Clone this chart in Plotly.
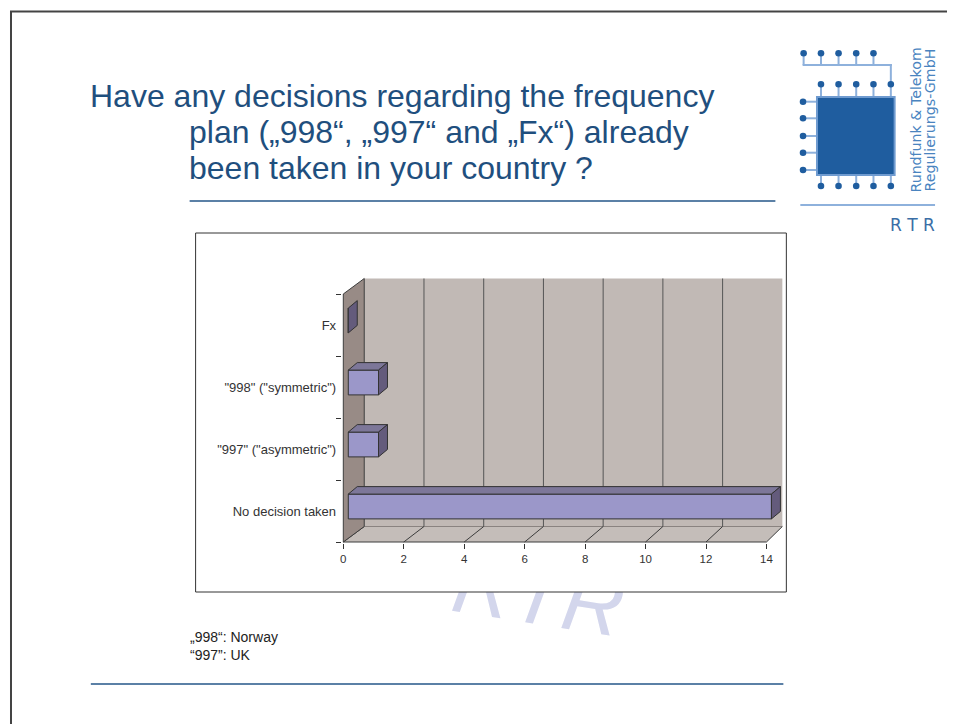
import plotly.graph_objects as go

# ---------------- data ----------------
categories = ['No decision taken', '"997" ("asymmetric")', '"998" ("symmetric")', 'Fx']
values = [14, 1, 1, 0]
x_tick_values = [0, 2, 4, 6, 8, 10, 12, 14]

title_lines = ['Have any decisions regarding the frequency',
               'plan („998“, „997“ and „Fx“) already',
               'been taken in your country ?']
note_lines = ['„998“: Norway', '“997”: UK']
logo_lines = ['Rundfunk & Telekom', 'Regulierungs-GmbH']
logo_mark = 'R T R'
watermark = 'RTR'

# ---------------- layout / style constants ----------------
OFF = 8                      # page offset of the figure inside the browser window
W, H = 955 - OFF, 724 - OFF
FONT = 'Liberation Sans, Arial, sans-serif'
X0_PX, PX_PER_X = 342, 30.29      # window pixel of value 0 on the front plane, px per unit
Y0_PX, PX_PER_Y = 542, 62         # window pixel of lower category boundary, px per category
XMIN, XMAX = -0.04, 14.65
YMIN, YMAX = -0.52, 3.78

WALL_DX, WALL_DY = 21 / PX_PER_X, 15.5 / PX_PER_Y
BACK_SCALE = 0.988
BAR_W = 0.40
BAR_D1 = (5 / PX_PER_X, 4.5 / PX_PER_Y)
BAR_D2 = (14 / PX_PER_X, 12 / PX_PER_Y)

C_BACK = '#c1b9b5'
C_FLOOR = '#c4bdb9'
C_SIDE = '#988b86'
C_EDGE = '#3c3c3c'
C_BAR = '#9b97c9'
C_BAR_TOP = '#7d7799'
C_BAR_SIDE = '#645b7c'
C_TITLE = '#1f4f7e'
C_RULE = '#5b80a6'
C_LOGO = '#1f5d9f'
C_LOGO_LIGHT = '#8eb1dc'
C_LOGO_TEXT = '#4a84bf'


def xp(px):
    return (px - OFF) / W


def yp(py):
    return 1 - (py - OFF) / H


def back_x(v):
    return WALL_DX + v * BACK_SCALE


def poly(pts, fill, line_color=None, layer='below'):
    path = 'M ' + ' L '.join(f'{x:.5f},{y:.5f}' for x, y in pts) + ' Z'
    return dict(type='path', xref='x', yref='y', path=path, fillcolor=fill, layer=layer,
                line=dict(color=line_color if line_color else 'rgba(0,0,0,0)',
                          width=1 if line_color else 0))


def seg(x0, y0, x1, y1, color, width=1, layer='below'):
    return dict(type='line', xref='x', yref='y', x0=x0, y0=y0, x1=x1, y1=y1,
                line=dict(color=color, width=width), layer=layer)


def pseg(x0, y0, x1, y1, color, width=1, layer='below'):
    return dict(type='line', xref='paper', yref='paper', x0=xp(x0), y0=yp(y0), x1=xp(x1), y1=yp(y1),
                line=dict(color=color, width=width), layer=layer)


def prect(x0, y0, x1, y1, fill, line_color=None, width=1, layer='below', **kw):
    d = dict(type='rect', xref='paper', yref='paper', x0=xp(x0), y0=yp(y1), x1=xp(x1), y1=yp(y0),
             fillcolor=fill, layer=layer,
             line=dict(color=line_color if line_color else 'rgba(0,0,0,0)', width=width if line_color else 0))
    d.update(kw)
    return d


def pcircle(cx, cy, r, fill):
    return dict(type='circle', xref='paper', yref='paper', x0=xp(cx - r), x1=xp(cx + r),
                y0=yp(cy + r), y1=yp(cy - r), fillcolor=fill, line=dict(width=0), layer='above')


positions = list(range(len(categories)))
lo = positions[0] - 0.5
hi = positions[-1] + 0.5
vmax = x_tick_values[-1]

shapes = []

# ---- page decoration (paper, lower layer) ----
# watermark (partly hidden behind the chart box)
shapes.append(prect(502, 582, 576, 592, 'rgba(0,0,0,0)',
                    label=dict(text=watermark, textangle=9, textposition='middle center',
                               font=dict(family='Liberation Sans', size=84, color='#d3d6ec', style='italic'))))
# chart box
shapes.append(prect(194, 233, 786, 592, 'white', '#333333', 1))
# page frame
shapes.append(pseg(9, 11, 9, 724, '#444444', 2))
shapes.append(pseg(8, 11.5, 955, 11.5, '#444444', 2))
# rules
shapes.append(pseg(188, 201, 775, 201, C_RULE, 2))
shapes.append(pseg(89, 684, 783, 684, C_RULE, 2))

# ---- 3D chart frame (data coordinates) ----
shapes.append(poly([(back_x(0), lo + WALL_DY), (back_x(vmax), lo + WALL_DY),
                    (back_x(vmax), hi + WALL_DY), (back_x(0), hi + WALL_DY)], C_BACK))
shapes.append(poly([(0, lo), (vmax, lo), (back_x(vmax), lo + WALL_DY), (back_x(0), lo + WALL_DY)], C_FLOOR))
shapes.append(seg(back_x(0), lo + WALL_DY, back_x(vmax), lo + WALL_DY, '#8a8380'))
for v in x_tick_values[1:-1]:
    shapes.append(seg(back_x(v), lo + WALL_DY, back_x(v), hi + WALL_DY, '#555555'))
for v in x_tick_values:
    shapes.append(seg(v, lo, back_x(v), lo + WALL_DY, C_EDGE))
shapes.append(poly([(0, lo), (0, hi), (back_x(0), hi + WALL_DY), (back_x(0), lo + WALL_DY)], C_SIDE, C_EDGE))
shapes.append(seg(0, lo, vmax, lo, C_EDGE))

# ---- bar top and side faces ----
h = BAR_W / 2
for p, v in zip(positions, values):
    f_x0, f_dy = BAR_D1
    b_x0, b_dy = BAR_D2
    top = [(f_x0, p + h + f_dy), (f_x0 + v, p + h + f_dy), (b_x0 + v, p + h + b_dy), (b_x0, p + h + b_dy)]
    side = [(f_x0 + v, p - h + f_dy), (f_x0 + v, p + h + f_dy), (b_x0 + v, p + h + b_dy), (b_x0 + v, p - h + b_dy)]
    if v > 0:
        shapes.append(poly(top, C_BAR_TOP, '#333333', layer='above'))
    shapes.append(poly(side, C_BAR_SIDE, '#333333', layer='above'))

# ---- logo ----
top_row_x = [803.3, 820.7, 838.3, 856, 873.3]
row_x = [820.7, 838.3, 856, 873.3, 890.7]
col_y = [101.7, 118.3, 136, 152.7, 170]
for x in top_row_x:
    shapes.append(pseg(x, 53, x, 65, C_LOGO_LIGHT, 2))
shapes.append(pseg(802.3, 65, 891.7, 65, C_LOGO_LIGHT, 2))
shapes.append(pseg(890.7, 64, 890.7, 84, C_LOGO_LIGHT, 2))
for x in row_x:
    shapes.append(pseg(x, 84, x, 97, C_LOGO_LIGHT, 2))
    shapes.append(pseg(x, 175, x, 186, C_LOGO_LIGHT, 2))
for y in col_y:
    shapes.append(pseg(803, y, 817, y, C_LOGO_LIGHT, 2))
shapes.append(prect(816.7, 97, 894.5, 175, C_LOGO, '#6f9bd0', 2))
for x in top_row_x:
    shapes.append(pcircle(x, 53.3, 3.3, C_LOGO))
for x in row_x:
    shapes.append(pcircle(x, 84.3, 3.3, C_LOGO))
    shapes.append(pcircle(x, 186, 3.3, C_LOGO))
for y in col_y:
    shapes.append(pcircle(802.7, y, 3.3, C_LOGO))
shapes.append(pseg(800, 205, 935, 205, C_LOGO_LIGHT, 2))

# ---- annotations ----
annotations = []
title_pos = [(86, 96), (185, 132), (185, 168)]
for (x, y), t in zip(title_pos, title_lines):
    annotations.append(dict(text=t, x=xp(x), y=yp(y), xref='paper', yref='paper', xanchor='left',
                            yanchor='middle', showarrow=False,
                            font=dict(family=FONT, size=32, color=C_TITLE)))
for (x, y), t in zip([(186, 637), (186, 655)], note_lines):
    annotations.append(dict(text=t, x=xp(x), y=yp(y), xref='paper', yref='paper', xanchor='left',
                            yanchor='middle', showarrow=False,
                            font=dict(family=FONT, size=14, color='#222222')))
for x, t in zip([915, 929], logo_lines):
    annotations.append(dict(text=t, x=xp(x), y=yp(120.5), xref='paper', yref='paper', xanchor='center',
                            yanchor='middle', showarrow=False, textangle=-90,
                            font=dict(family='DejaVu Sans', size=14.2, color=C_LOGO_TEXT)))
annotations.append(dict(text=logo_mark, x=xp(937), y=yp(225), xref='paper', yref='paper', xanchor='right',
                        yanchor='middle', showarrow=False,
                        font=dict(family='DejaVu Sans', size=17, color='#3a6ea6')))

# ---- figure ----
fig = go.Figure()
fig.add_trace(go.Bar(
    y=positions, x=values, base=BAR_D1[0], orientation='h',
    width=BAR_W, offset=-BAR_W / 2 + BAR_D1[1],
    marker=dict(color=C_BAR, line=dict(color='#333333', width=1)),
    hoverinfo='skip', showlegend=False))

x_dom = [xp(X0_PX + XMIN * PX_PER_X), xp(X0_PX + XMAX * PX_PER_X)]
y_dom = [yp(Y0_PX - (YMIN - lo) * PX_PER_Y), yp(Y0_PX - (YMAX - lo) * PX_PER_Y)]

fig.update_layout(
    width=W, height=H, autosize=False,
    margin=dict(l=0, r=0, t=0, b=0),
    paper_bgcolor='white', plot_bgcolor='rgba(0,0,0,0)',
    shapes=shapes, annotations=annotations,
    xaxis=dict(domain=x_dom, range=[XMIN, XMAX], tickmode='array', tickvals=x_tick_values,
               ticks='outside', ticklen=5, tickcolor='#333333', showline=False, showgrid=False,
               zeroline=False, fixedrange=True,
               tickfont=dict(family=FONT, size=11.5, color='#333333')),
    yaxis=dict(domain=y_dom, range=[YMIN, YMAX], tickmode='array', tickvals=positions,
               ticktext=categories, ticks='', showline=False, showgrid=False, zeroline=False,
               fixedrange=True, ticklabelstandoff=5,
               minor=dict(tickmode='array', tickvals=[p - 0.5 for p in positions] + [hi],
                          ticks='outside', ticklen=5, tickcolor='#333333', showgrid=False),
               tickfont=dict(family=FONT, size=13, color='#333333')),
)

fig.write_html('out.html')
